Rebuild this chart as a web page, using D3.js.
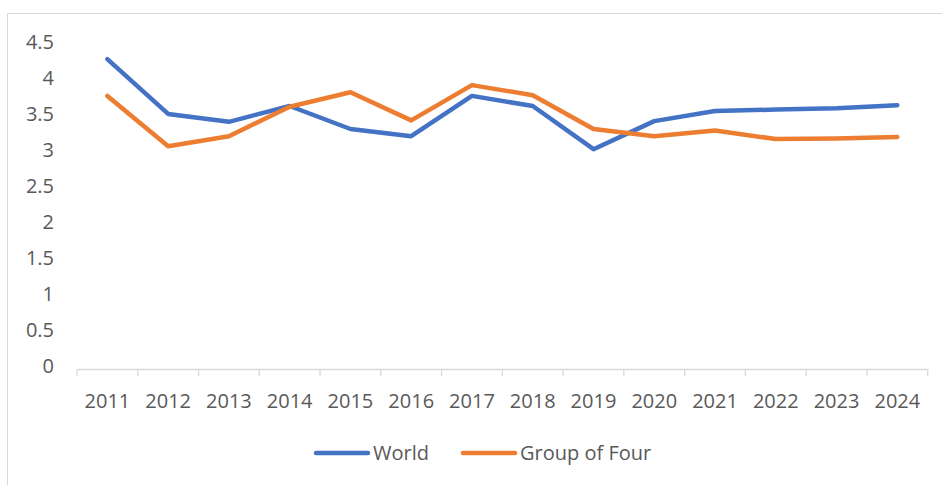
<!DOCTYPE html>
<html>
<head>
<meta charset="utf-8">
<script src="https://cdn.jsdelivr.net/npm/d3@7"></script>
<style>
  html, body { margin: 0; padding: 0; background: #fff; }
  svg { display: block; }
  text { font-family: "Open Sans", "Liberation Sans", sans-serif; fill: #595959; }
</style>
</head>
<body>
<svg id="chart" width="942" height="485"></svg>
<script>
const years = ["2011","2012","2013","2014","2015","2016","2017","2018","2019","2020","2021","2022","2023","2024"];
const world = [4.31, 3.55, 3.44, 3.66, 3.34, 3.24, 3.80, 3.66, 3.06, 3.45, 3.59, 3.61, 3.63, 3.67];
const groupOfFour = [3.80, 3.10, 3.24, 3.65, 3.85, 3.46, 3.95, 3.81, 3.34, 3.24, 3.32, 3.20, 3.21, 3.23];
const yTicks = [0, 0.5, 1, 1.5, 2, 2.5, 3, 3.5, 4, 4.5];
const seriesNames = ["World", "Group of Four"];
const seriesColors = ["#4472C4", "#ED7D31"];

const svg = d3.select("#chart");

// outer border
svg.append("rect")
  .attr("x", 7.5).attr("y", 13.5)
  .attr("width", 960).attr("height", 500)
  .attr("fill", "none").attr("stroke", "#d9d9d9").attr("stroke-width", 1);

const x = d3.scaleBand().domain(years).range([77, 927.7]).padding(0);
const y = d3.scaleLinear().domain([0, 4.5]).range([369.5, 45.5]);

// y axis labels (no line)
const yAxis = d3.axisLeft(y).tickValues(yTicks).tickSize(0).tickPadding(0)
  .tickFormat(d => String(d));
const gy = svg.append("g").attr("transform", "translate(54,0)").call(yAxis);
gy.select(".domain").remove();
gy.selectAll("text")
  .attr("font-size", "20px")
  .attr("fill", "#595959")
  .attr("dy", "0.32em")
  .attr("transform", "translate(0,-3)")
  .style("font-family", '"Open Sans", "Liberation Sans", sans-serif');

// x axis
const xAxis = d3.axisBottom(x).tickSize(0).tickPadding(0);
const gx = svg.append("g").attr("transform", `translate(0,${y(0)})`).call(xAxis);
gx.select(".domain").attr("stroke", "#d9d9d9").attr("stroke-width", 1.3)
  .attr("d", `M${x.range()[0]},0H${x.range()[1]}`);
gx.selectAll(".tick line").remove();
gx.selectAll("text")
  .attr("font-size", "20px")
  .attr("fill", "#595959")
  .attr("y", 38)
  .attr("dy", 0)
  .style("font-family", '"Open Sans", "Liberation Sans", sans-serif');
// category boundary tick marks
const bounds = years.map(d => x(d)).concat([x.range()[1]]);
gx.selectAll(".bound").data(bounds).enter().append("line")
  .attr("class", "bound")
  .attr("x1", d => d).attr("x2", d => d)
  .attr("y1", 0).attr("y2", 7)
  .attr("stroke", "#d9d9d9").attr("stroke-width", 1.3);

// lines
const line = d3.line()
  .x((d, i) => x(years[i]) + x.bandwidth() / 2)
  .y(d => y(d));

[world, groupOfFour].forEach((vals, k) => {
  svg.append("path")
    .datum(vals)
    .attr("d", line)
    .attr("fill", "none")
    .attr("stroke", seriesColors[k])
    .attr("stroke-width", 4.5)
    .attr("stroke-linejoin", "round")
    .attr("stroke-linecap", "round");
});

// legend
const legendItems = [
  { name: seriesNames[0], color: seriesColors[0], x: 314 },
  { name: seriesNames[1], color: seriesColors[1], x: 461 }
];
const lg = svg.append("g");
legendItems.forEach(it => {
  lg.append("line")
    .attr("x1", it.x + 2).attr("x2", it.x + 54)
    .attr("y1", 453).attr("y2", 453)
    .attr("stroke", it.color).attr("stroke-width", 4.5)
    .attr("stroke-linecap", "round");
  lg.append("text")
    .attr("x", it.x + 59).attr("y", 460)
    .attr("font-size", "20px")
    .text(it.name);
});
</script>
</body>
</html>
